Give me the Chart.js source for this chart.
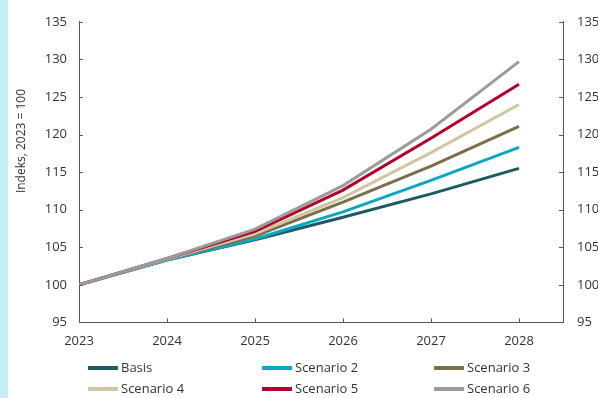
<!DOCTYPE html>
<html>
<head>
<meta charset="utf-8">
<script src="https://cdn.jsdelivr.net/npm/chart.js@4"></script>
<style>
  body { margin: 0; background: #fff; font-family: "Open Sans", sans-serif; }
  #wrap { position: relative; width: 598px; height: 398px; overflow: hidden; }
  #strip { position: absolute; left: 0; top: 0; width: 8px; height: 398px; background: #c4eef6; }
  #myChart { position: absolute; left: 0; top: 0; }
  #ytitle { position: absolute; left: 20px; top: 141px; transform: translate(-50%, -50%) rotate(-90deg);
            font-size: 12px; color: #333; white-space: nowrap; }
  .leg { position: absolute; font-size: 13px; color: #333; white-space: nowrap; line-height: 16px; }
  .leg i { display: inline-block; width: 30px; height: 4px; vertical-align: middle; margin-right: 3px; position: relative; top: -1px; }
</style>
</head>
<body>
<div id="wrap">
  <canvas id="myChart" width="598" height="360"></canvas>
  <div id="strip"></div>
  <div id="ytitle">Indeks, 2023 = 100</div>
  <div id="legend"></div>
</div>
<script>
const years = [2023, 2024, 2025, 2026, 2027, 2028];
const seriesNames = ['Basis', 'Scenario 2', 'Scenario 3', 'Scenario 4', 'Scenario 5', 'Scenario 6'];
const basis = [100, 103.3, 106.0, 109.0, 112.1, 115.5];
const scenario2 = [100, 103.3, 106.1, 109.7, 113.9, 118.3];
const scenario3 = [100, 103.4, 106.5, 111.0, 115.8, 121.1];
const scenario4 = [100, 103.4, 106.8, 111.6, 117.6, 124.0];
const scenario5 = [100, 103.5, 107.1, 112.6, 119.5, 126.7];
const scenario6 = [100, 103.5, 107.4, 113.2, 120.7, 129.7];
const colors = ['#1b5b61', '#0aa8c2', '#7b6f4a', '#d1c6a1', '#b5002c', '#9b9b9b'];

const allSeries = [basis, scenario2, scenario3, scenario4, scenario5, scenario6];

// inward tick marks on the axes
const innerTicks = {
  id: 'innerTicks',
  afterDraw(chart) {
    const c = chart.ctx, a = chart.chartArea;
    const y = chart.scales.y, x = chart.scales.x;
    c.save();
    c.strokeStyle = '#555';
    c.lineWidth = 1;
    c.beginPath();
    y.ticks.forEach(t => {
      const py = Math.round(y.getPixelForValue(t.value)) + 0.5;
      c.moveTo(a.left, py); c.lineTo(a.left + 4, py);
      c.moveTo(a.right, py); c.lineTo(a.right - 4, py);
    });
    x.ticks.forEach(t => {
      const px = Math.round(x.getPixelForValue(t.value)) + 0.5;
      c.moveTo(px, a.bottom); c.lineTo(px, a.bottom - 4);
    });
    c.stroke();
    c.restore();
  }
};

const ctx = document.getElementById('myChart');
const tickFont = { family: 'Open Sans', size: 13 };

new Chart(ctx, {
  type: 'line',
  data: {
    datasets: allSeries.map((s, i) => ({
      label: seriesNames[i],
      data: s.map((v, j) => ({ x: years[j], y: v })),
      borderColor: colors[i],
      backgroundColor: colors[i],
      borderWidth: 3,
      pointRadius: 0,
      tension: 0
    })).reverse()
  },
  options: {
    responsive: false,
    animation: false,
    layout: { padding: { top: 3, left: 0, right: 0, bottom: 0 } },
    plugins: { legend: { display: false }, tooltip: { enabled: false } },
    scales: {
      x: {
        type: 'linear',
        min: 2023,
        max: 2028.5,
        ticks: { stepSize: 1, includeBounds: false, color: '#333', font: tickFont, padding: 11,
                 callback: v => String(v) },
        grid: { display: false, drawTicks: false },
        border: { color: '#555' }
      },
      y: {
        min: 95,
        max: 135,
        ticks: { stepSize: 5, color: '#333', font: tickFont, padding: 12 },
        grid: { display: false, drawTicks: false },
        border: { color: '#555' },
        afterFit: s => { s.width = 79; }
      },
      y2: {
        position: 'right',
        min: 95,
        max: 135,
        ticks: { stepSize: 5, color: '#333', font: tickFont, padding: 14 },
        grid: { display: false, drawTicks: false },
        border: { color: '#555' },
        afterFit: s => { s.width = 35; }
      }
    }
  },
  plugins: [innerTicks]
});

// legend, three columns
const legend = document.getElementById('legend');
const colX = [88, 262, 434];
const rowY = [359, 380];
seriesNames.forEach((name, i) => {
  const d = document.createElement('div');
  d.className = 'leg';
  d.style.left = colX[i % 3] + 'px';
  d.style.top = rowY[Math.floor(i / 3)] + 'px';
  d.innerHTML = '<i style="background:' + colors[i] + '"></i>' + name;
  legend.appendChild(d);
});
</script>
</body>
</html>
